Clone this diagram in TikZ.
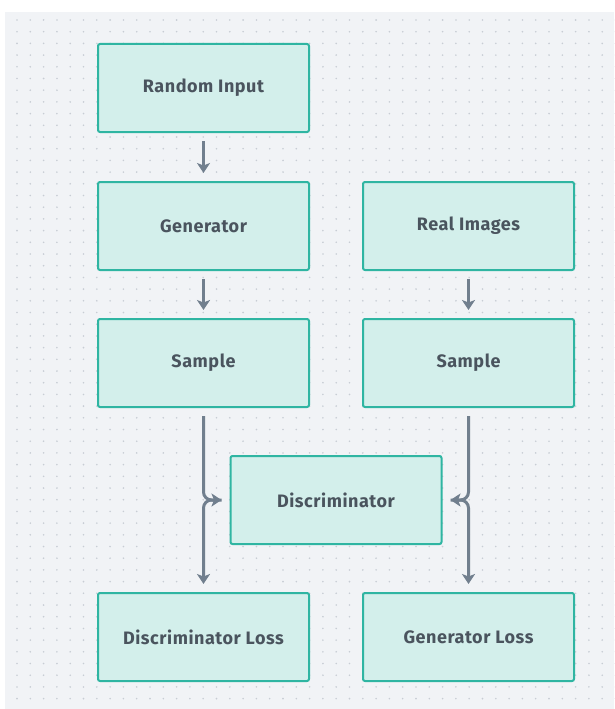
\documentclass[tikz,border=0pt]{standalone}
\usepackage{fontspec}
\setmainfont{Fira Sans}
\usetikzlibrary{arrows.meta}
\definecolor{canvas}{HTML}{F1F3F6}
\definecolor{griddot}{HTML}{C8CDD4}
\definecolor{boxfill}{HTML}{D3EFEB}
\definecolor{boxline}{HTML}{2FB5A2}
\definecolor{boxtext}{HTML}{4A545E}
\definecolor{wire}{HTML}{717F8E}
\tikzset{
  x=1pt, y=-1pt,
  stagebox/.style={draw=boxline, fill=boxfill, line width=2pt, rounded corners=2pt,
    minimum width=211pt, minimum height=88pt, inner sep=0pt,
    font=\fontsize{18}{20}\selectfont\bfseries\addfontfeature{LetterSpace=3}, text=boxtext},
  flow/.style={draw=wire, line width=3pt,
    -{Stealth[length=10pt,width=13pt,inset=2.5pt]},
    shorten <=8pt, shorten >=8pt},
  elbowflow/.style={flow, rounded corners=8pt}
}
\begin{document}
\begin{tikzpicture}
  % page and canvas
  \useasboundingbox (0,0) rectangle (614,709);
  \fill[white] (0,0) rectangle (614,709);
  \fill[canvas] (5,12) rectangle (614,709);
  % dotted grid
  \foreach \i in {0,...,45} {
    \foreach \j in {0,...,59} {
      \fill[griddot] (17+13.3*\i, 20+11.7*\j) circle (0.9pt);
    }
  }
  % stages
  \node[stagebox] (rand)  at (203.5,88)  {Random Input};
  \node[stagebox] (gen)   at (203.5,226) {Generator};
  \node[stagebox] (real)  at (468.5,226) {Real Images};
  \node[stagebox] (sampL) at (203.5,363) {Sample};
  \node[stagebox] (sampR) at (468.5,363) {Sample};
  \node[stagebox] (disc)  at (336,500)   {Discriminator};
  \node[stagebox] (dloss) at (203.5,637) {Discriminator Loss};
  \node[stagebox] (gloss) at (468.5,637) {Generator Loss};
  % connectors
  \draw[flow] (rand) -- (gen);
  \draw[flow] (gen) -- (sampL);
  \draw[flow] (real) -- (sampR);
  \draw[elbowflow] (sampL.south) |- (disc.west);
  \draw[elbowflow] (sampR.south) |- (disc.east);
  \draw[elbowflow] (disc.west) -| (dloss.north);
  \draw[elbowflow] (disc.east) -| (gloss.north);
\end{tikzpicture}
\end{document}
